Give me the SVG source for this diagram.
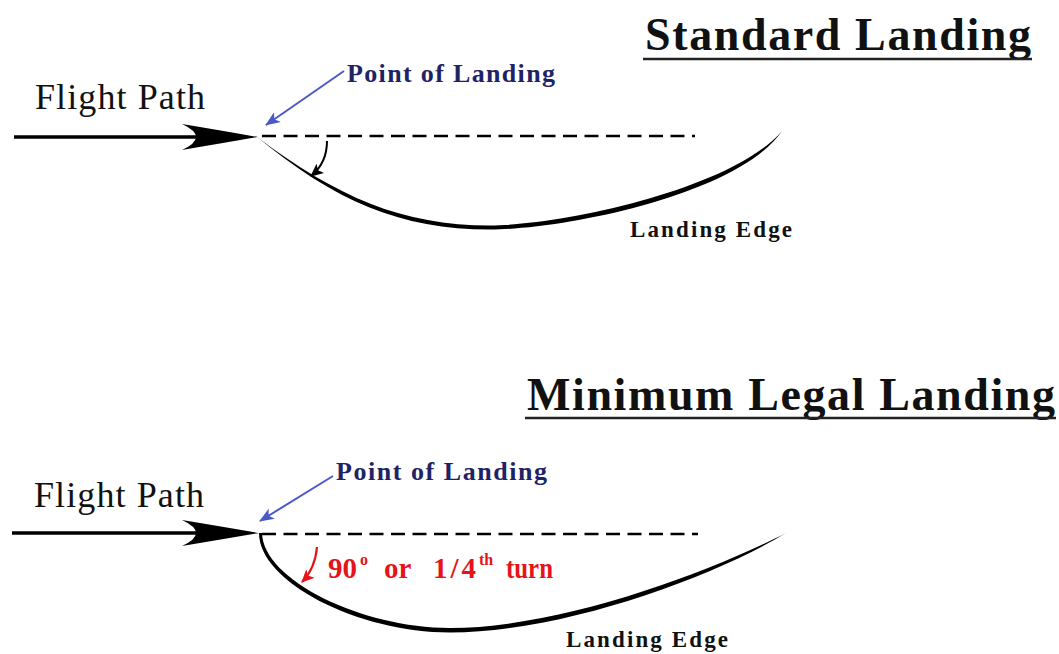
<svg xmlns="http://www.w3.org/2000/svg" width="1059" height="654" viewBox="0 0 1059 654">
<style>
.serif{font-family:"Liberation Serif","Times New Roman",serif;}
.title{font-size:46px;font-weight:bold;fill:#111;}
.fp{font-size:36px;fill:#111;}
.pol{font-size:26px;font-weight:bold;fill:#1f2366;}
.edge{font-size:23px;font-weight:bold;fill:#111;}
.red{font-size:29px;font-weight:bold;fill:#e5141b;}
.redsup{font-size:16px;font-weight:bold;fill:#e5141b;}
.uline{stroke:#222;stroke-width:2.5;}
.shaft{stroke:#000;stroke-width:3.5;fill:none;}
.dash{stroke:#000;stroke-width:2.5;stroke-dasharray:14 7.5;fill:none;}
.blue{stroke:#4a58c8;stroke-width:2;fill:none;}
.curl{stroke:#000;stroke-width:2;fill:none;}
.curlred{stroke:#e5141b;stroke-width:2.2;fill:none;}
</style>
<defs>
<marker id="mBlue" markerUnits="userSpaceOnUse" markerWidth="16" markerHeight="12" refX="14" refY="6" orient="auto">
<path d="M0,0 L15,6 L0,12 L4,6 Z" fill="#4a58c8"/>
</marker>
<marker id="mBlack" markerUnits="userSpaceOnUse" markerWidth="14" markerHeight="12" refX="12" refY="6" orient="auto">
<path d="M0,0 L13,6 L0,12 L3,6 Z" fill="#000"/>
</marker>
<marker id="mRed" markerUnits="userSpaceOnUse" markerWidth="14" markerHeight="12" refX="12" refY="6" orient="auto">
<path d="M0,0 L13,6 L0,12 L3,6 Z" fill="#e5141b"/>
</marker>
</defs>

<g id="standard-title">
<text class="serif title" x="645" y="50" textLength="386" lengthAdjust="spacing">Standard Landing</text>
<line class="uline" x1="643" y1="59" x2="1032" y2="59"/>
</g>

<g id="flight-path-1">
<text class="serif fp" x="35" y="109" textLength="170" lengthAdjust="spacing">Flight Path</text>
<line class="shaft" x1="14" y1="137" x2="205" y2="137"/>
<path d="M258,137 Q218,130 182,124 Q210,137 182,150 Q218,144 258,137 Z" fill="#000"/>
</g>

<g id="point-of-landing-1">
<text class="serif pol" x="347" y="82" textLength="208" lengthAdjust="spacing">Point of Landing</text>
</g>

<g id="landing-edge-1">
<path d="M257,137 C335,201 400,229.5 490,229.5 C563,229.5 738,195 782,131 C733,189 561,225.5 490,225.5 C402,225.5 337,197 257,137 Z" fill="#000"/>
<text class="serif edge" x="630" y="237" textLength="162" lengthAdjust="spacing">Landing Edge</text>
</g>

<g id="minimum-title">
<text class="serif title" x="527" y="410" textLength="528" lengthAdjust="spacing">Minimum Legal Landing</text>
<line class="uline" x1="525" y1="418" x2="1056" y2="418"/>
</g>

<g id="flight-path-2">
<text class="serif fp" x="34" y="507" textLength="170" lengthAdjust="spacing">Flight Path</text>
<line class="shaft" x1="12" y1="533" x2="205" y2="533"/>
<path d="M259,533 Q218,526 182,520 Q210,533 182,546 Q218,540 259,533 Z" fill="#000"/>
</g>

<g id="point-of-landing-2">
<text class="serif pol" x="336" y="480" textLength="211" lengthAdjust="spacing">Point of Landing</text>
</g>

<g id="landing-edge-2">
<path d="M259,533 C259,582 358,632.5 450,632.5 C561,632.5 712,578 786,533 C706,574 559,628 450,628 C362,628 263,580 262,533 Z" fill="#000"/>
<text class="serif edge" x="566" y="647" textLength="162" lengthAdjust="spacing">Landing Edge</text>
</g>

<g id="turn-label">
<text class="serif red" x="328" y="578">90</text>
<text class="serif redsup" x="360" y="565">o</text>
<text class="serif red" x="384" y="578">or</text>
<text class="serif red" x="433" y="578" textLength="43" lengthAdjust="spacing">1/4</text>
<text class="serif redsup" x="479" y="565">th</text>
<text class="serif red" x="506" y="578" textLength="47" lengthAdjust="spacingAndGlyphs">turn</text>
</g>

<g id="connectors">
<line class="dash" x1="262" y1="136" x2="695" y2="136"/>
<line class="dash" x1="262" y1="534" x2="698" y2="534"/>
<path class="blue" d="M344,71 L266,125" marker-end="url(#mBlue)"/>
<path class="blue" d="M333,476 L260,521" marker-end="url(#mBlue)"/>
<path class="curl" d="M327,141 Q327,163 311,176" marker-end="url(#mBlack)"/>
<path class="curlred" d="M317,547 Q315,569 302,582" marker-end="url(#mRed)"/>
</g>
</svg>
